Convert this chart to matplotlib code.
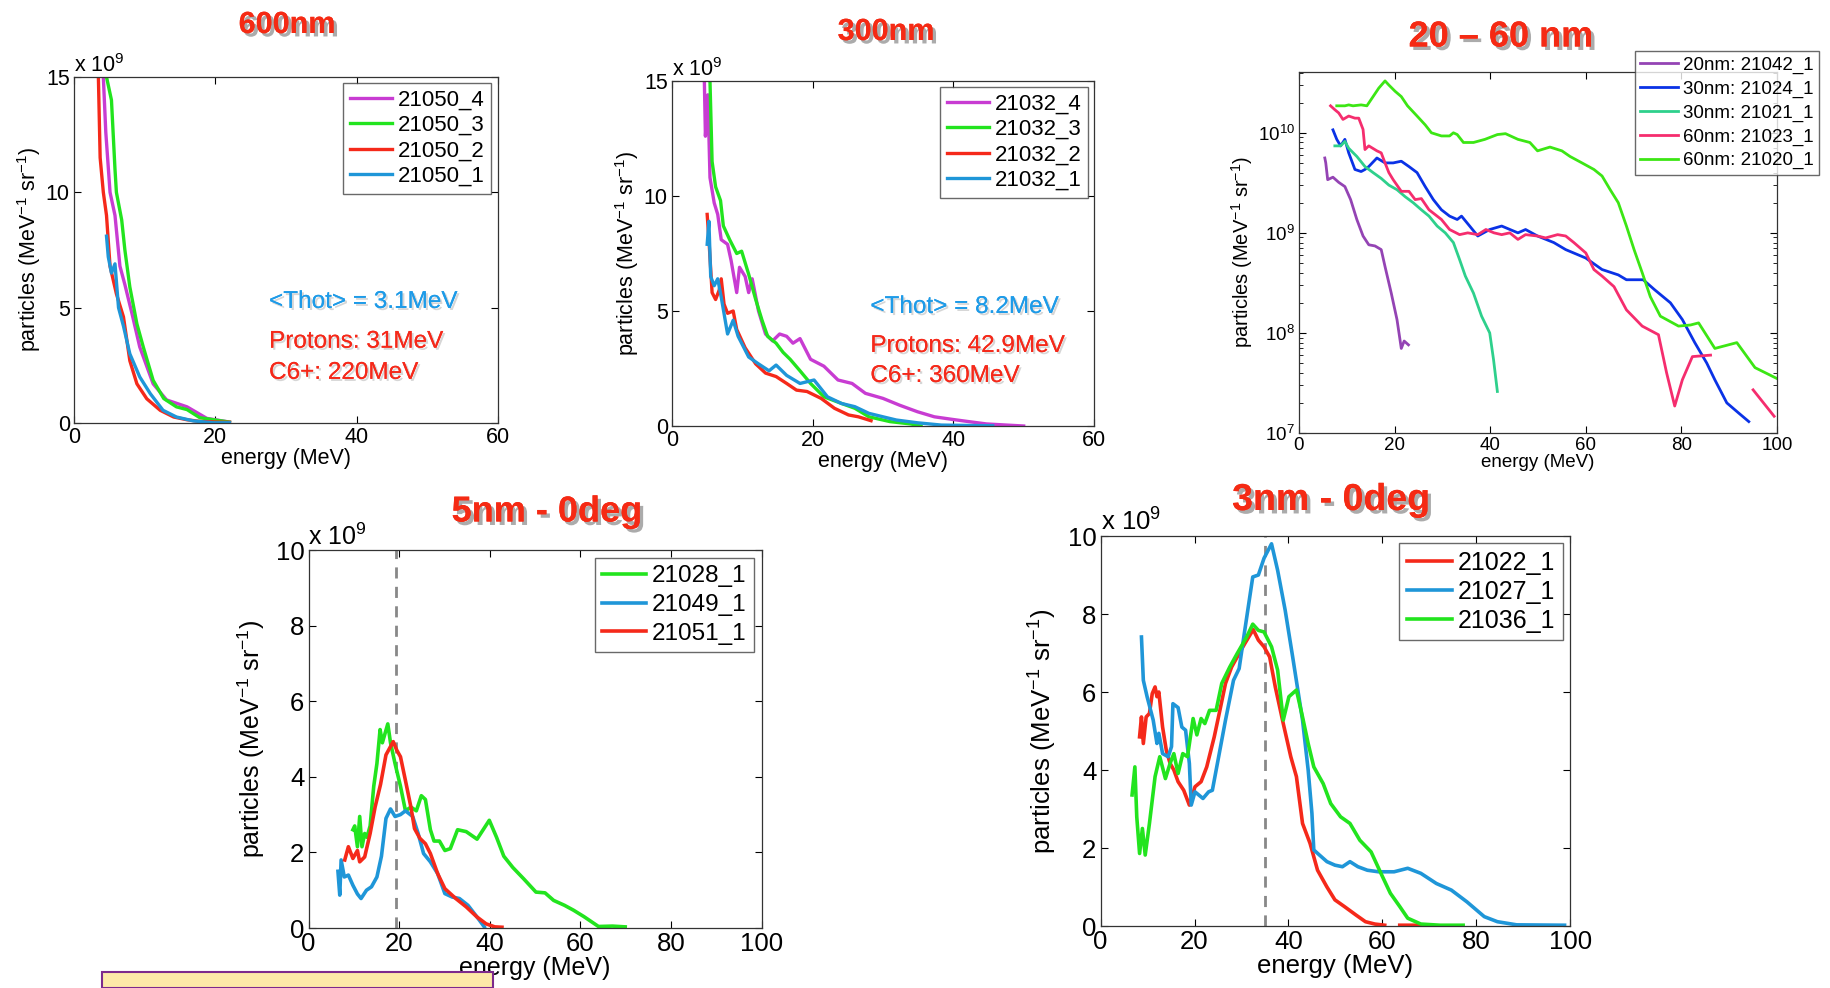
"""Espectros de protones por espesor de blanco (recreacion de la figura compuesta)."""

import matplotlib

matplotlib.use("Agg")
import matplotlib.pyplot as plt
import matplotlib.patheffects as pe
from matplotlib.patches import Rectangle
import numpy as np

plt.rcParams["font.family"] = ["Liberation Sans", "DejaVu Sans"]
plt.rcParams["mathtext.fontset"] = "custom"
plt.rcParams["mathtext.rm"] = "Liberation Sans"
plt.rcParams["mathtext.it"] = "Liberation Sans:italic"

nan = np.nan

# --- 600 nm (unidades de 1e9) ---
E600_4 = [4.15, 4.5, 5.1, 5.8, 6.5, 7.2, 8.2, 9.3, 11.2, 13.1, 16, 18.8, 22]
N600_4 = [15, 12.6, 10, 9, 6.8, 6, 4.75, 3.3, 1.7, 1.0, 0.7, 0.2, 0.04]
E600_3 = [4.6, 5.3, 5.8, 6.0, 6.75, 7.2, 7.9, 8.9, 9.8, 11.2, 12.7, 14.5, 16, 17.8, 20.2, 22]
N600_3 = [15, 14, 11, 10, 8.8, 7.5, 5.9, 4.3, 3.3, 1.85, 1.06, 0.7, 0.58, 0.23, 0.12, 0.04]
E600_2 = [3.45, 3.7, 4.15, 4.6, 5.1, 6, 7, 7.9, 8.9, 10.3, 12.2, 14.1, 16, 17.8, 20.2, 22]
N600_2 = [15, 11.5, 10, 9, 6.8, 5.6, 4.6, 2.7, 1.7, 1.05, 0.55, 0.26, 0.14, 0.07, 0.04, 0.03]
E600_1 = [4.6, 4.85, 5.3, 5.8, 6.3, 7, 7.9, 9.3, 10.8, 12.6, 14.5, 16.9, 19.7, 22]
N600_1 = [8.1, 7.2, 6.5, 6.9, 5.0, 4.2, 3.0, 2.0, 1.27, 0.55, 0.26, 0.09, 0.01, 0.01]

# --- 300 nm ---
E300_4 = [4.6, 4.75, 5.1, 5.4, 6, 6.5, 7, 7.9, 8.4, 9.2, 9.6, 10.4, 10.9, 11.4, 12.3, 13.3,
          14.3, 15.3, 16.3, 17.2, 18.2, 19.7, 21.6, 23.6, 25.6, 27.5, 30, 32.4, 34.9, 37.3,
          39.8, 42.2, 44.7, 47.6, 50]
N300_4 = [15, 12.6, 14.4, 10.8, 9.7, 9.2, 8.1, 7.9, 7.2, 5.8, 6.9, 6.5, 5.8, 6.4, 5.0, 4.0,
          3.7, 4.0, 3.9, 3.6, 3.8, 2.9, 2.6, 2.0, 1.85, 1.42, 1.2, 0.9, 0.62, 0.4,
          0.29, 0.19, 0.09, 0.04, 0.0]
E300_3 = [5.4, 5.7, 6.2, 6.9, 7.3, 8.2, 9.2, 9.9, 10.9, 11.9, 12.8, 13.6, 14.8, 15.8, 16.8,
          18.2, 19.7, 21.6, 24.1, 26, 28, 31, 33.9, 35.4]
N300_3 = [15, 11.5, 10.4, 9.8, 8.7, 8.1, 7.5, 7.6, 6.6, 5.5, 4.6, 3.9, 3.6, 3.2, 2.9,
          2.4, 1.85, 1.27, 0.98, 0.77, 0.4, 0.19, 0.09, 0.0]
E300_2 = [5, 5.25, 5.7, 6.2, 6.7, 7, 7.4, 7.9, 8.7, 9.2, 10.4, 11.9, 13.3, 14.8, 16.3, 17.7,
          19.2, 21.2, 23.1, 25.1, 26.5, 28.3]
N300_2 = [9.2, 8.1, 5.8, 5.5, 5.9, 6.4, 5.3, 4.9, 5.0, 4.2, 3.4, 2.7, 2.3, 2.15, 1.85, 1.56,
          1.5, 1.2, 0.77, 0.48, 0.4, 0.23]
E300_1 = [5, 5.25, 5.5, 6, 6.5, 7, 7.9, 8.7, 9.4, 10.9, 12.3, 13.8, 14.8, 16.3, 18.2, 20.2,
          22.1, 24.1, 26, 28, 30, 31.9, 34.9, 38.3, 45.6]
N300_1 = [7.9, 8.9, 6.5, 6.1, 6.4, 5.6, 4.0, 4.6, 3.9, 3.0, 2.7, 2.4, 2.65, 2.2, 1.85, 2.0,
          1.27, 0.98, 0.84, 0.55, 0.4, 0.26, 0.14, 0.04, 0.01]

# --- 20 - 60 nm (escala log, valores absolutos) ---
E20_42 = [5.4, 5.6, 6, 7.1, 8.3, 9.6, 10.8, 12.1, 13.4, 14.6, 15.9, 17.2, 18, 19.3, 20.5,
          21.4, 22, 22.9]
N20_42 = [5.6e9, 5.0e9, 3.4e9, 3.6e9, 3.2e9, 2.9e9, 2.15e9, 1.36e9, 9.3e8, 7.6e8, 7.4e8,
          6.8e8, 4.6e8, 2.5e8, 1.36e8, 7e7, 8.3e7, 7.6e7]
E30_24 = [7.1, 7.9, 8.7, 9.6, 10.4, 11.7, 13, 13.8, 14.6, 16.3, 18, 19.7, 21.4, 23, 24.7,
          26.4, 28.1, 29.8, 31.5, 33.1, 34, 35.7, 37.4, 39.9, 42.4, 45.8, 47.4, 49.9, 53.3,
          55.8, 60, 63.4, 66.8, 68.5, 72, 74.4, 77.7, 80.2, 82.8, 85.3, 87, 89.5, 92, 94.1]
N30_24 = [1.07e10, 8.6e9, 7.4e9, 8.6e9, 6.3e9, 4.3e9, 4.1e9, 4.3e9, 4.6e9, 5.6e9, 5e9, 5e9,
          5.2e9, 4.6e9, 4e9, 2.9e9, 2.15e9, 1.7e9, 1.47e9, 1.36e9, 1.47e9, 1.17e9, 9.3e8,
          1.08e9, 1.17e9, 1e9, 1.08e9, 9.3e8, 8e8, 6.8e8, 5.6e8, 4.3e8, 3.8e8, 3.4e8, 3.4e8,
          2.7e8, 2e8, 1.36e8, 8e7, 5e7, 3.4e7, 2e7, 1.58e7, 1.3e7]
E30_21 = [7.5, 8.7, 9.6, 10.4, 12.1, 13.8, 15.5, 17.2, 18.8, 20.5, 22.2, 23.9, 25.6, 27.2,
          28.9, 30.6, 32.3, 33.6, 34.8, 36.5, 38.2, 39.9, 40.7, 41.5]
N30_21 = [7.4e9, 7.4e9, 8.2e9, 7e9, 5.8e9, 4.6e9, 4e9, 3.5e9, 3e9, 2.7e9, 2.3e9, 2e9, 1.7e9,
          1.47e9, 1.17e9, 1e9, 8e8, 5.4e8, 3.7e8, 2.5e8, 1.47e8, 1e8, 5.4e7, 2.6e7]
E60_23 = [6.6, 7.5, 8.3, 9.2, 10.4, 11.7, 12.5, 13.4, 13.8, 14.6, 16.3, 17.2, 18, 18.8, 19.7,
          21.4, 23, 24.3, 25.6, 27.2, 29.8, 31.5, 33.6, 35.3, 37.4, 39.1, 40.8, 42.4, 44.1,
          45.8, 47.4, 49.9, 51.6, 54.1, 55.8, 57.5, 60, 61.7, 63.4, 65.9, 68.5, 71.8, 75.2,
          76.9, 78.6, 80.2, 82.3, 86.1, 90, 95, 99.4]
N60_23 = [1.86e10, 1.7e10, 1.58e10, 1.36e10, 1.47e10, 1.4e10, 1.4e10, 1.08e10, 6.8e9, 7.4e9,
          6.6e9, 6.3e9, 5e9, 4e9, 3.4e9, 2.6e9, 2.6e9, 2.15e9, 2.2e9, 1.7e9, 1.36e9, 1.08e9,
          9.6e8, 1e9, 9.6e8, 1.08e9, 1e9, 9.6e8, 1e9, 8.6e8, 9.6e8, 9.3e8, 8.9e8, 9.6e8,
          9.3e8, 8e8, 6.3e8, 4.3e8, 3.7e8, 2.9e8, 1.7e8, 1.17e8, 9.6e7, 4e7, 1.86e7, 3.4e7,
          5.8e7, 6e7, nan, 2.7e7, 1.47e7]
E60_20 = [7.9, 9.6, 10.4, 11.3, 13, 14.2, 15.5, 16.7, 18, 18.8, 20.1, 21.4, 22.7, 24.7, 26.4,
          27.7, 29.8, 31.5, 32.3, 33.1, 34.4, 36.5, 38.9, 41.5, 43.2, 45.8, 48.3, 49.9, 52.5,
          55, 56.7, 59.2, 61.7, 63.4, 65.1, 66.8, 68.5, 70.1, 71.8, 73.5, 75.6, 79.4, 81.9,
          83.6, 87, 91.6, 95.4, 100]
N60_20 = [1.86e10, 1.86e10, 1.9e10, 1.86e10, 1.9e10, 1.86e10, 2.3e10, 2.8e10, 3.3e10, 3e10,
          2.6e10, 2.3e10, 1.86e10, 1.47e10, 1.2e10, 1e10, 9.3e9, 9.3e9, 1e10, 9.6e9, 8e9, 8e9,
          8.6e9, 9.6e9, 9.8e9, 8.6e9, 8e9, 6.6e9, 7.2e9, 6.6e9, 5.8e9, 5e9, 4.3e9, 3.7e9,
          2.7e9, 2e9, 1.17e9, 6.8e8, 4e8, 2.3e8, 1.47e8, 1.17e8, 1.2e8, 1.26e8, 7e7, 8e7,
          4.5e7, 3.5e7]

# --- 5 nm - 0 deg (unidades de 1e9) ---
E5_28 = [9.8, 10.2, 10.8, 11.3, 11.8, 12.4, 12.9, 13.6, 14.4, 15.1, 15.8, 16.3, 16.9, 17.5,
         18.1, 19.1, 20.3, 21.4, 22.6, 23.8, 24.9, 25.8, 26.9, 27.7, 28.9, 30.1, 31.3, 32.9,
         34.8, 37.2, 39.9, 41.5, 43.1, 45.1, 47.5, 50.2, 52.2, 54.1, 56.5, 58.5, 60.8, 64,
         67.1, 69.9]
N5_28 = [2.6, 2.7, 2.15, 2.95, 2.15, 2.5, 2.4, 2.7, 3.75, 4.35, 5.25, 4.9, 5.15, 5.4,
         4.9, 4.35, 3.75, 3.1, 3.2, 3.1, 3.5, 3.4, 2.6, 2.3, 2.3, 2.05, 2.1, 2.6,
         2.55, 2.35, 2.85, 2.4, 1.9, 1.6, 1.3, 0.95, 0.93, 0.73, 0.6, 0.47, 0.3, 0.04,
         0.05, 0.03]
E5_49 = [6.5, 6.9, 7.2, 7.9, 8.8, 9.8, 10.8, 11.6, 12.8, 13.9, 15.1, 16.1, 17.1, 18.1, 19.1,
         20.3, 21.4, 23, 24.2, 25.4, 26.9, 28.5, 30.1, 31.7, 33.3, 35.2, 37.2, 38.8]
N5_49 = [1.5, 0.87, 1.8, 1.35, 1.4, 1.13, 0.9, 0.78, 1.0, 1.09, 1.35, 1.9, 2.9, 3.15, 2.95,
         3.0, 3.1, 2.95, 2.5, 1.97, 1.75, 1.44, 0.91, 0.82, 0.78, 0.6, 0.29, 0.03]
E5_51 = [8, 8.8, 9.8, 10.8, 11.3, 12.4, 13.6, 14.7, 15.9, 17.1, 18.1, 18.7, 19.5, 20.3, 21.4,
         22.6, 23.4, 24.6, 25.8, 26.9, 28.5, 30.1, 32.5, 34.8, 37.2, 39.2, 41.1, 42.7]
N5_51 = [1.8, 2.15, 1.84, 2.05, 1.75, 1.88, 2.5, 3.2, 3.8, 4.58, 4.8, 4.93, 4.7, 4.53, 3.9,
         3.2, 2.63, 2.37, 2.23, 1.97, 1.44, 1.04, 0.78, 0.56, 0.29, 0.11, 0.03, 0.02]

# --- 3 nm - 0 deg (unidades de 1e9) ---
E3_22 = [8.3, 8.7, 9.1, 9.7, 10.4, 11, 11.6, 12, 12.4, 13.2, 14, 14.8, 15.6, 16.5, 17.7, 18.9,
         20.1, 21.4, 22.6, 24.2, 25.4, 26.6, 27.9, 29.1, 30.7, 32.5, 33.6, 34.8, 36, 37.2,
         38.9, 40.5, 41.7, 43, 44.6, 46.2, 48.2, 49.9, 51.9, 54.4, 56.4, 58.4, 60.5, 62,
         63.7, 68.2]
N3_22 = [4.85, 5.36, 4.68, 5.36, 5.45, 5.96, 6.13, 5.88, 6.0, 5.1, 4.5, 4.17, 4.0, 3.7, 3.48,
         3.1, 3.57, 3.7, 4.08, 4.85, 5.53, 6.22, 6.64, 6.9, 7.24, 7.6, 7.33, 7.16, 6.9, 6.13,
         5.19, 4.34, 3.83, 2.63, 2.12, 1.43, 1.0, 0.67, 0.5, 0.28, 0.11, 0.05, 0.02, nan,
         0.02, 0.02]
E3_27 = [8.7, 9.1, 9.9, 11.2, 12, 12.4, 13.2, 14.4, 15.1, 15.4, 16.5, 17.3, 18.1, 18.9, 19.3,
         20.1, 21.8, 23, 23.8, 25, 26.6, 28.3, 29.5, 30.7, 32.4, 33.6, 34.8, 36.4, 37.7,
         39.3, 40.9, 43, 44.2, 45, 45.4, 46.6, 48.2, 49.9, 51.5, 53.1, 54.8, 56.8, 59.2,
         62.5, 65.4, 68.2, 71.5, 74.7, 78, 81.7, 84.5, 88.6, 98.8]
N3_27 = [7.41, 6.3, 5.88, 5.28, 4.68, 4.94, 4.42, 4.34, 4.6, 5.7, 5.6, 5.1, 5.02, 4.17, 3.1,
         3.44, 3.27, 3.44, 3.48, 4.25, 5.28, 6.3, 6.6, 7.58, 8.95, 9.0, 9.43, 9.8, 9.12,
         8.1, 6.9, 5.28, 4.0, 2.89, 1.95, 1.82, 1.65, 1.56, 1.52, 1.65, 1.52, 1.43, 1.39,
         1.39, 1.48, 1.35, 1.09, 0.92, 0.62, 0.24, 0.11, 0.03, 0.02]
E3_36 = [6.7, 7.3, 7.7, 8.3, 8.9, 9.5, 10.4, 11.6, 12.6, 13.8, 14.8, 15.6, 16.5, 17.5, 18.5,
         19.7, 20.5, 21.4, 22.2, 23.2, 24.6, 25.8, 27.5, 29.1, 31.1, 32.4, 33.6, 34.8, 36.4,
         37.7, 38.9, 40.1, 41.7, 43, 44.2, 45.4, 47.4, 49, 51.1, 53.1, 55.2, 57.6, 59.7,
         61.7, 63.7, 65.4, 68.2, 72.3, 77.2]
N3_36 = [3.36, 4.08, 2.8, 1.86, 2.5, 1.82, 2.63, 3.83, 4.34, 3.78, 4.17, 4.42, 3.91, 4.42,
         4.34, 5.32, 4.9, 5.32, 5.19, 5.53, 5.53, 6.22, 6.64, 6.99, 7.41, 7.74, 7.58, 7.54,
         7.16, 6.56, 5.28, 5.88, 6.05, 5.36, 4.68, 4.08, 3.65, 3.14, 2.8, 2.63, 2.2, 1.9,
         1.35, 0.84, 0.5, 0.2, 0.05, 0.02, 0.02]

MAG, GRN, RED, BLU = "#c83cd2", "#22e41e", "#f5291a", "#1f96d8"
TITLE_RED = "#f52a14"
YLAB = "particles (MeV$^{-1}$ sr$^{-1}$)"
W, H = 1830, 988
shadow = [pe.withSimplePatchShadow(offset=(2.5, -2.5), shadow_rgbFace="#888888", alpha=0.7), pe.Normal()]
soft = [pe.withSimplePatchShadow(offset=(1.5, -1.5), shadow_rgbFace="#999999", alpha=0.4), pe.Normal()]


def box(x0, y0, x1, y1):
    """Caja en pixeles de la imagen (origen arriba a la izquierda) -> fraccion de figura."""
    return [x0 / W, 1 - y1 / H, (x1 - x0) / W, (y1 - y0) / H]


def style(ax, fs):
    ax.tick_params(direction="in", top=True, right=True, labelsize=fs, length=5, width=0.8, pad=3)
    ax.tick_params(which="minor", direction="in", top=True, right=True, length=3)
    for s in ax.spines.values():
        s.set_linewidth(0.9)
        s.set_color("#333333")


def legend(ax, fs, corner, spacing=0.2, hl=1.9):
    lg = ax.legend(fontsize=fs, frameon=True, fancybox=False, handlelength=hl,
                   handletextpad=0.25, labelspacing=spacing, borderpad=0.3,
                   loc="upper right", bbox_to_anchor=(corner[0] / W, 1 - corner[1] / H),
                   bbox_transform=fig.transFigure, borderaxespad=0)
    lg.get_frame().set_edgecolor("#444444")
    lg.get_frame().set_linewidth(1.0)
    return lg


fig = plt.figure(figsize=(18.3, 9.88), dpi=100)

# Panel 600 nm
ax1 = fig.add_axes(box(74, 77, 498, 423))
for e, n, c, lab in [(E600_4, N600_4, MAG, "21050_4"), (E600_3, N600_3, GRN, "21050_3"),
                     (E600_2, N600_2, RED, "21050_2"), (E600_1, N600_1, BLU, "21050_1")]:
    ax1.plot(e, n, color=c, lw=2.4, label=lab)
ax1.set_xlim(0, 60)
ax1.set_ylim(0, 15)
ax1.set_xticks([0, 20, 40, 60])
ax1.set_yticks([0, 5, 10, 15])
style(ax1, 15.5)
ax1.set_xlabel("energy (MeV)", fontsize=15.5, labelpad=0)
ax1.set_ylabel(YLAB, fontsize=15.5, labelpad=2)
ax1.text(0.0, 1.0, "x 10$^9$", transform=ax1.transAxes, fontsize=15.5, va="bottom")
legend(ax1, 16, (491, 83))
ax1.text(0.46, 0.35, "<Thot> = 3.1MeV", transform=ax1.transAxes, fontsize=17.5, color="#1e9be8",
         va="center", path_effects=soft)
ax1.text(0.46, 0.235, "Protons: 31MeV", transform=ax1.transAxes, fontsize=17.5, color=RED,
         va="center", path_effects=soft)
ax1.text(0.46, 0.145, "C6+: 220MeV", transform=ax1.transAxes, fontsize=17.5, color=RED,
         va="center", path_effects=soft)

# Panel 300 nm
ax2 = fig.add_axes(box(672, 81, 1094, 426))
for e, n, c, lab in [(E300_4, N300_4, MAG, "21032_4"), (E300_3, N300_3, GRN, "21032_3"),
                     (E300_2, N300_2, RED, "21032_2"), (E300_1, N300_1, BLU, "21032_1")]:
    ax2.plot(e, n, color=c, lw=2.4, label=lab)
ax2.set_xlim(0, 60)
ax2.set_ylim(0, 15)
ax2.set_xticks([0, 20, 40, 60])
ax2.set_yticks([0, 5, 10, 15])
style(ax2, 15.5)
ax2.set_xlabel("energy (MeV)", fontsize=15.5, labelpad=0)
ax2.set_ylabel(YLAB, fontsize=15.5, labelpad=2)
ax2.text(0.0, 1.0, "x 10$^9$", transform=ax2.transAxes, fontsize=15.5, va="bottom")
legend(ax2, 16, (1088, 87))
ax2.text(0.47, 0.345, "<Thot> = 8.2MeV", transform=ax2.transAxes, fontsize=17.5, color="#1e9be8",
         va="center", path_effects=soft)
ax2.text(0.47, 0.232, "Protons: 42.9MeV", transform=ax2.transAxes, fontsize=17.5, color=RED,
         va="center", path_effects=soft)
ax2.text(0.47, 0.145, "C6+: 360MeV", transform=ax2.transAxes, fontsize=17.5, color=RED,
         va="center", path_effects=soft)

# Panel 20 - 60 nm (log)
ax3 = fig.add_axes(box(1299, 72, 1777, 433))
for e, n, c, lab in [(E20_42, N20_42, "#9444b4", "20nm: 21042_1"),
                     (E30_24, N30_24, "#0a32e6", "30nm: 21024_1"),
                     (E30_21, N30_21, "#2ed08c", "30nm: 21021_1"),
                     (E60_23, N60_23, "#f52d6e", "60nm: 21023_1"),
                     (E60_20, N60_20, "#3ce614", "60nm: 21020_1")]:
    ax3.plot(e, n, color=c, lw=2.0, label=lab)
ax3.set_yscale("log")
ax3.set_xlim(0, 100)
ax3.set_ylim(1e7, 4.05e10)
ax3.set_xticks([0, 20, 40, 60, 80, 100])
style(ax3, 13.5)
ax3.set_xlabel("energy (MeV)", fontsize=13.5, labelpad=0)
ax3.set_ylabel(YLAB, fontsize=14.5, labelpad=2)
legend(ax3, 13.5, (1819, 51), spacing=0.35, hl=2.0)

# Panel 5 nm - 0 deg
ax4 = fig.add_axes(box(308.5, 550, 761.6, 928))
ax4.axvline(19.3, color="#888888", lw=2, ls=(0, (4, 3)))
for e, n, c, lab in [(E5_28, N5_28, GRN, "21028_1"), (E5_49, N5_49, BLU, "21049_1"),
                     (E5_51, N5_51, RED, "21051_1")]:
    ax4.plot(e, n, color=c, lw=2.6, label=lab)
ax4.set_xlim(0, 100)
ax4.set_ylim(0, 10)
ax4.set_xticks([0, 20, 40, 60, 80, 100])
ax4.set_yticks([0, 2, 4, 6, 8, 10])
style(ax4, 18.5)
ax4.set_xlabel("energy (MeV)", fontsize=18, labelpad=0)
ax4.set_ylabel(YLAB, fontsize=18, labelpad=6)
ax4.text(0.0, 1.0, "x 10$^9$", transform=ax4.transAxes, fontsize=18, va="bottom")
legend(ax4, 17.5, (754, 558), spacing=0.28, hl=1.8)

# Panel 3 nm - 0 deg
ax5 = fig.add_axes(box(1100.6, 536, 1570.2, 926))
ax5.axvline(35, color="#888888", lw=2, ls=(0, (4, 3)))
for e, n, c, lab in [(E3_22, N3_22, RED, "21022_1"), (E3_27, N3_27, BLU, "21027_1"),
                     (E3_36, N3_36, GRN, "21036_1")]:
    ax5.plot(e, n, color=c, lw=2.6, label=lab)
ax5.set_xlim(0, 100)
ax5.set_ylim(0, 10)
ax5.set_xticks([0, 20, 40, 60, 80, 100])
ax5.set_yticks([0, 2, 4, 6, 8, 10])
style(ax5, 18.5)
ax5.set_xlabel("energy (MeV)", fontsize=18.5, labelpad=0)
ax5.set_ylabel(YLAB, fontsize=18.5, labelpad=6)
ax5.text(0.0, 1.0, "x 10$^9$", transform=ax5.transAxes, fontsize=18.5, va="bottom")
legend(ax5, 18, (1563, 543), spacing=0.2, hl=1.8)

# Titulos rojos con sombra
for x, y, t, fs in [(287, 25, "600nm", 22), (886, 32, "300nm", 22), (1501, 37, "20 – 60 nm", 26),
                    (547, 512, "5nm - 0deg", 26), (1331, 500, "3nm - 0deg", 27)]:
    fig.text(x / W, 1 - y / H, t, fontsize=fs, fontweight="bold", color=TITLE_RED,
             ha="center", va="center", path_effects=shadow)

# Recuadro amarillo recortado abajo a la izquierda
fig.patches.append(Rectangle((102 / W, 0.0), 391 / W, 16 / H, transform=fig.transFigure,
                             facecolor="#fde9a8", edgecolor="#7d2a8c", lw=1.5, zorder=5))

fig.savefig("out.png", dpi=100)
